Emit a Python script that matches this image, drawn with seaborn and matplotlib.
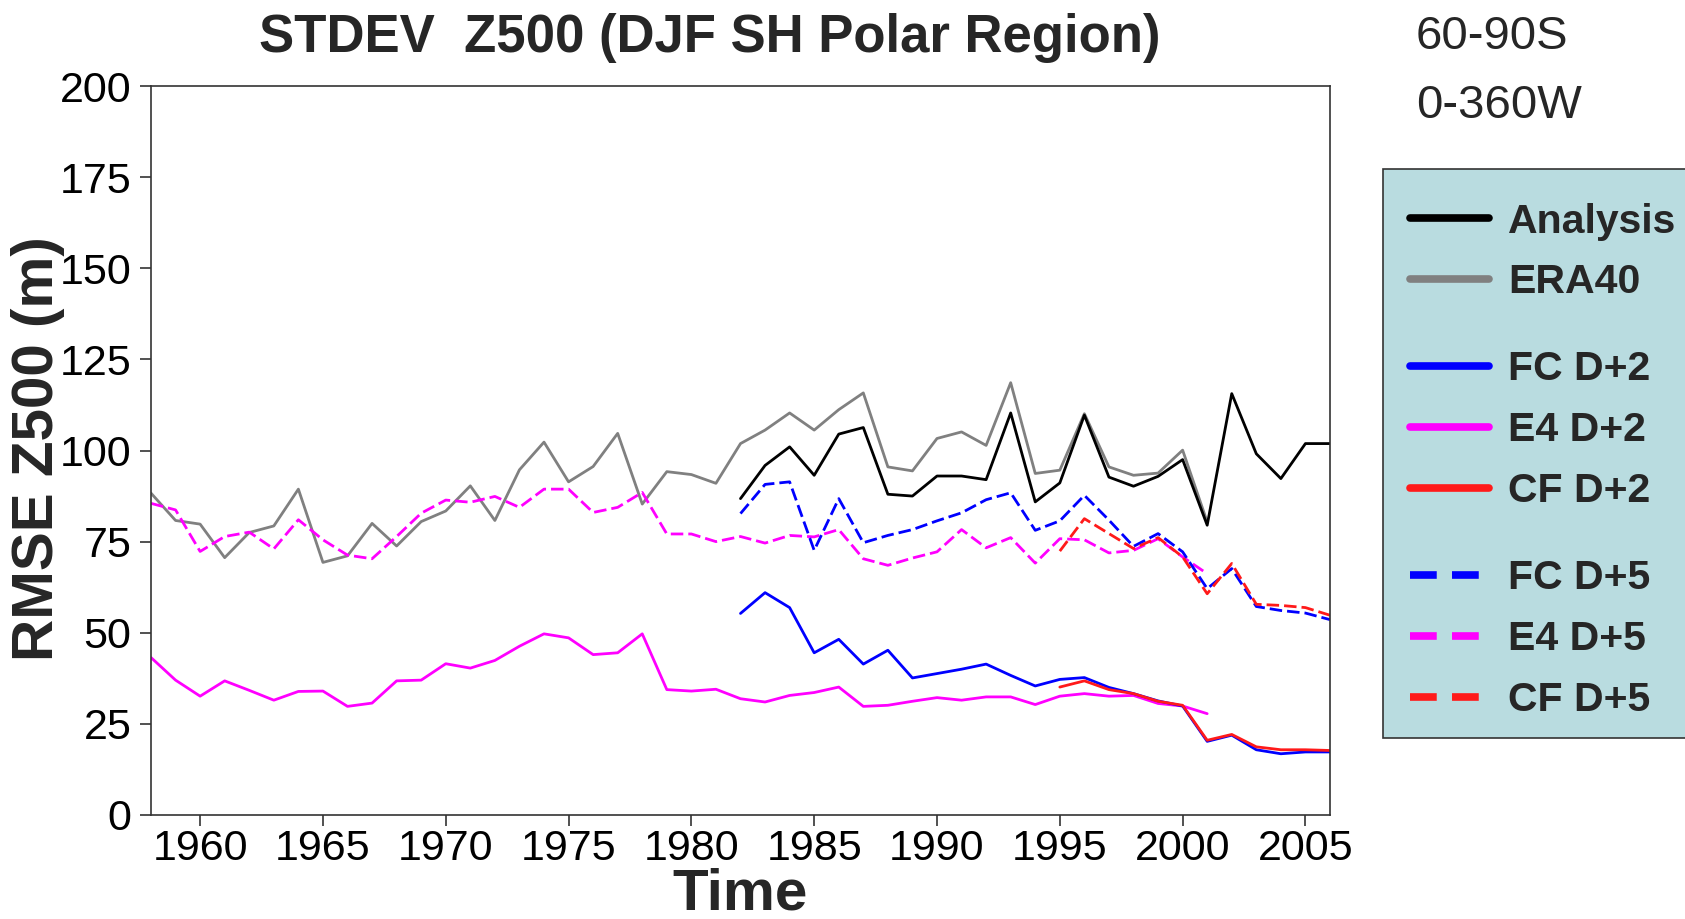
import matplotlib
matplotlib.use("Agg")
import matplotlib.pyplot as plt
import seaborn as sns
from matplotlib.lines import Line2D
from matplotlib.patches import Rectangle

# years
years_era = list(range(1958, 2002))
years_ops = list(range(1982, 2007))
years_cf = list(range(1995, 2007))

# values (m)
era40 = [88.3, 80.8, 79.8, 70.6, 77.5, 79.3, 89.4, 69.3, 71.1, 80.0, 73.8,
         80.5, 83.4, 90.3, 80.8, 94.7, 102.3, 91.4, 95.6, 104.7, 85.3, 94.2,
         93.4, 91.0, 101.9, 105.6, 110.3, 105.6, 111.2, 115.8, 95.5, 94.4,
         103.3, 105.1, 101.4, 118.6, 93.7, 94.6, 110.1, 95.5, 93.2, 93.8,
         100.1, 80.4]
e4_d5 = [85.5, 83.7, 72.3, 76.4, 77.6, 73.0, 81.0, 75.5, 71.3, 70.3, 76.4,
         82.8, 86.4, 85.8, 87.4, 84.4, 89.4, 89.4, 83.0, 84.4, 88.5, 77.1,
         77.1, 75.0, 76.4, 74.6, 76.7, 76.3, 78.3, 70.3, 68.5, 70.5, 72.2,
         78.3, 73.3, 76.1, 69.1, 75.8, 75.5, 71.9, 72.6, 75.8, 70.8, 66.2]
e4_d2 = [43.2, 37.0, 32.6, 36.8, 34.2, 31.5, 33.9, 34.0, 29.8, 30.7, 36.8,
         37.0, 41.5, 40.3, 42.4, 46.3, 49.7, 48.6, 44.0, 44.5, 49.7, 34.4,
         34.0, 34.5, 31.9, 31.0, 32.8, 33.6, 35.1, 29.8, 30.1, 31.2, 32.2,
         31.5, 32.4, 32.4, 30.3, 32.6, 33.3, 32.6, 32.8, 30.6, 29.9, 27.8]
analysis = [86.8, 95.9, 101.0, 93.2, 104.5, 106.3, 88.0, 87.5, 93.0, 93.0,
            92.0, 110.3, 85.9, 91.1, 109.7, 92.7, 90.2, 92.9, 97.5, 79.5,
            115.6, 99.1, 92.3, 101.9, 101.9]
fc_d5 = [82.7, 90.7, 91.4, 72.6, 86.8, 74.7, 76.7, 78.3, 80.7, 82.9, 86.5,
         88.4, 78.1, 80.7, 87.7, 80.9, 73.7, 77.2, 72.2, 62.1, 67.6, 57.2,
         56.1, 55.4, 53.6]
fc_d2 = [55.3, 61.0, 56.9, 44.5, 48.2, 41.4, 45.2, 37.6, 38.8, 40.0, 41.4,
         38.3, 35.4, 37.2, 37.7, 35.0, 33.3, 31.3, 29.9, 20.2, 21.9, 17.9,
         16.8, 17.3, 17.3]
cf_d2 = [35.1, 36.8, 34.4, 33.3, 31.2, 30.1, 20.5, 22.1, 18.7, 17.9, 17.9, 17.7]
cf_d5 = [72.4, 81.3, 77.2, 73.1, 76.1, 70.8, 60.7, 69.0, 57.8, 57.5, 56.9, 54.8]

BLUE, MAG, RED, GRAY = "#0000ff", "#ff00ff", "#ff1a1a", "#808080"
DASH = (0, (4.5, 1.8))

sns.set_theme(style="ticks")
plt.rcParams["font.family"] = ["Liberation Sans", "DejaVu Sans"]

W, H = 1685, 919
fig = plt.figure(figsize=(W / 100, H / 100), dpi=100)
ax = fig.add_axes([151 / W, 1 - 815 / H, (1330 - 151) / W, (815 - 86) / H])

lw = 2.0
series = [
    (years_era, era40, GRAY, "-"),
    (years_era, e4_d2, MAG, "-"),
    (years_era, e4_d5, MAG, DASH),
    (years_ops, analysis, "black", "-"),
    (years_ops, fc_d2, BLUE, "-"),
    (years_ops, fc_d5, BLUE, DASH),
    (years_cf, cf_d2, RED, "-"),
    (years_cf, cf_d5, RED, DASH),
]
for xs, ys, c, ls in series:
    sns.lineplot(x=xs, y=ys, ax=ax, color=c, linewidth=lw, linestyle=ls)

ax.set_xlim(1958, 2006)
ax.set_ylim(0, 200)
ax.set_xticks([1960, 1965, 1970, 1975, 1980, 1985, 1990, 1995, 2000, 2005])
ax.set_yticks(range(0, 201, 25))
ax.tick_params(labelsize=31, length=8, width=1.2, color="#333333",
               labelcolor="black")
ax.tick_params(axis="x", pad=2)
ax.tick_params(axis="y", pad=6)
for sp in ax.spines.values():
    sp.set_visible(True)
    sp.set_color("#333333")
    sp.set_linewidth(1.2)

fig.text(710 / W, 1 - 52 / H, "STDEV  Z500 (DJF SH Polar Region)",
         ha="center", va="baseline", fontsize=38, fontweight="bold")
fig.text(1416 / W, 1 - 49 / H, "60-90S", ha="left", va="baseline", fontsize=34)
fig.text(1416 / W, 1 - 118 / H, "0-360W", ha="left", va="baseline", fontsize=34)
fig.text(740 / W, 1 - 909 / H, "Time", ha="center", va="baseline",
         fontsize=42, fontweight="bold")
fig.text(38 / W, 0.512, "RMSE Z500 (m)", ha="center", va="center",
         rotation=90, fontsize=42, fontweight="bold")

# legend box
fig.add_artist(Rectangle((1383 / W, 1 - 738 / H), 0.3, (738 - 169) / H,
                         transform=fig.transFigure, facecolor="#b9dce0",
                         edgecolor="#333333", linewidth=1.2, zorder=-1))

LEG_DASH = (0, (3.5, 2.0))
hlw = 5.5
groups = [
    ([("Analysis", "black", "-"), ("ERA40", GRAY, "-")], 252),
    ([("FC D+2", BLUE, "-"), ("E4 D+2", MAG, "-"), ("CF D+2", RED, "-")], 430),
    ([("FC D+5", BLUE, LEG_DASH), ("E4 D+5", MAG, LEG_DASH),
      ("CF D+5", RED, LEG_DASH)], 639),
]
for entries, yc in groups:
    handles = [Line2D([], [], color=c, lw=hlw, linestyle=ls, label=lab)
               for lab, c, ls in entries]
    fig.legend(handles=handles, loc="center left",
               bbox_to_anchor=(1410 / W, 1 - yc / H), frameon=False,
               borderpad=0, borderaxespad=0, handlelength=1.94,
               handletextpad=0.45, labelspacing=0.56,
               prop={"weight": "bold", "size": 29.5})

fig.savefig("out.png", dpi=100)
